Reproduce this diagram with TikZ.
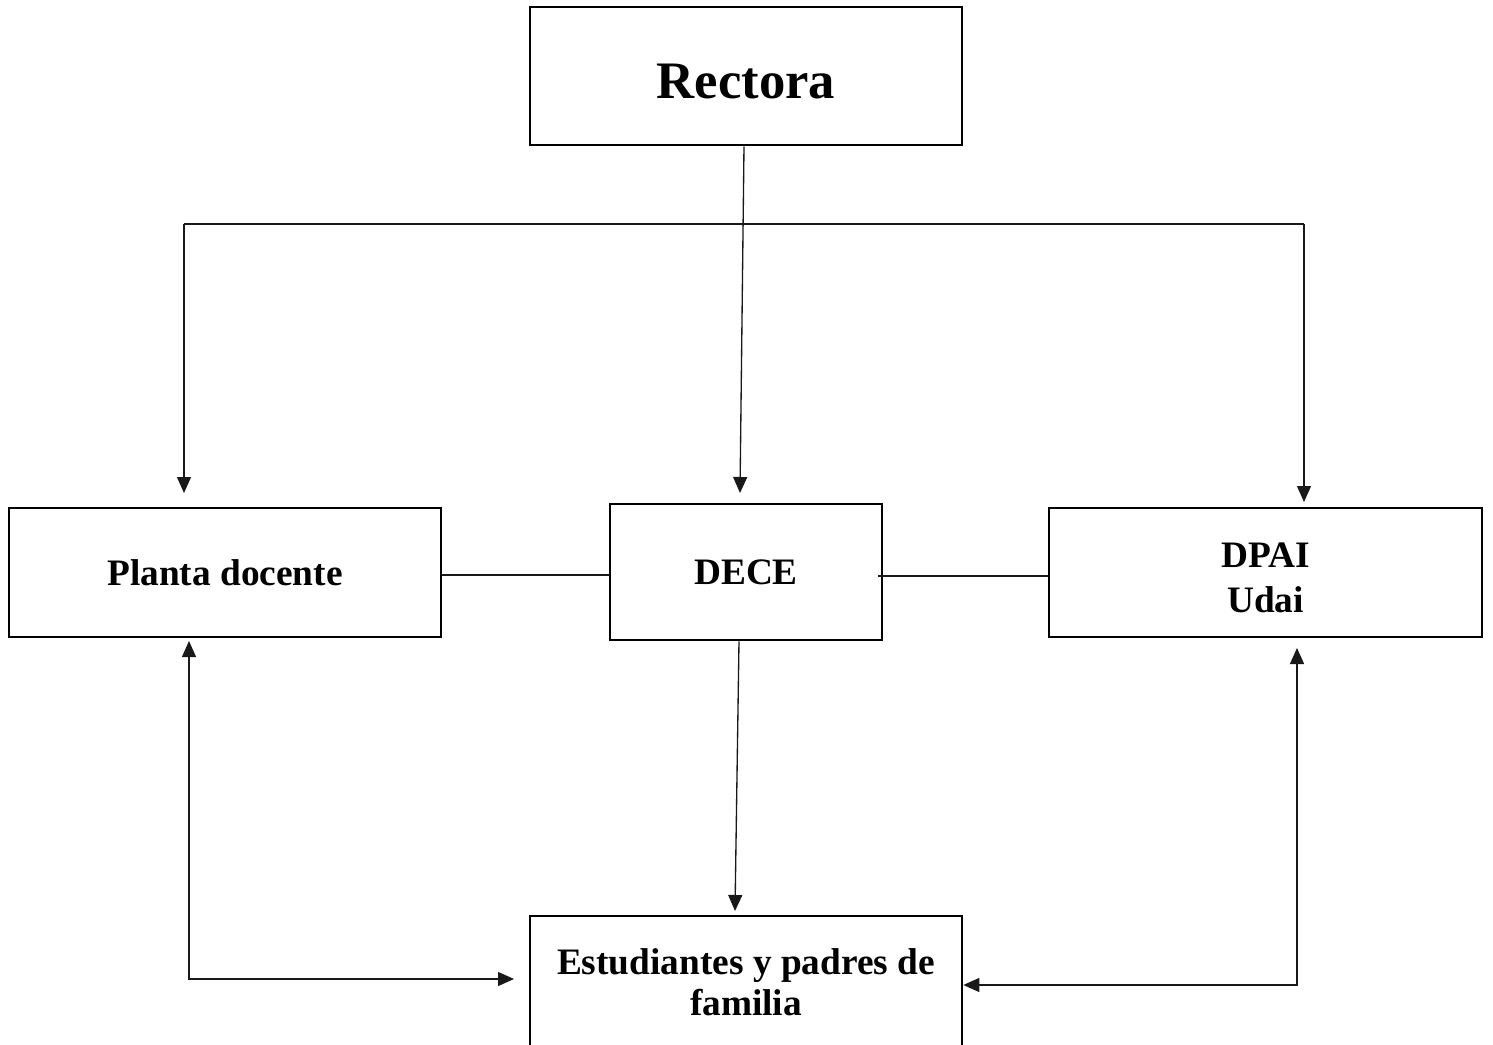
\documentclass[tikz,border=0pt]{standalone}
\usepackage{fontspec}
\setmainfont{Liberation Serif}
\usetikzlibrary{arrows.meta,calc}
\begin{document}
\begin{tikzpicture}[x=0.75pt,y=-0.75pt,
 box/.style={draw,line width=2pt,rectangle,inner sep=0pt,font=\fontsize{28}{33.75}\selectfont\bfseries,align=center},
 conn/.style={line width=1pt,draw=black!90},
 tip/.tip={Triangle[width=10.5pt,length=12pt]},
 arr/.style={conn,-tip},
 darr/.style={conn,tip-tip},
]
\path[use as bounding box] (0,0) rectangle (1493,1045);
\clip (0,0) rectangle (1493,1045);
\node[box,minimum width=324pt,minimum height=103.5pt,font=\fontsize{39.5}{44}\selectfont\bfseries,text height=34pt,text depth=0pt] (rect) at (746,76) {Rectora};
\node[box,minimum width=324pt,minimum height=96.75pt] (planta) at (225,572.5) {Planta docente};
\node[box,minimum width=204pt,minimum height=102pt] (dece) at (746,572) {DECE};
\node[box,minimum width=324.75pt,minimum height=96.75pt,text height=60pt,text depth=0pt] (dpai) at (1265.5,572.5) {DPAI\\Udai};
\node[box,minimum width=324pt,minimum height=99pt,font=\fontsize{28}{30.75}\selectfont\bfseries] (est) at (746,982) {Estudiantes y padres de\\familia};
\coordinate (busL) at (184,224);
\coordinate (busR) at (1304,224);
\coordinate (tPl) at (184,493);
\coordinate (tDp) at (1304,502);
\coordinate (tDe) at (740,493);
\coordinate (tEs) at (735,911);
\coordinate (pl1) at (189,641);
\coordinate (pl2) at (189,979);
\coordinate (tEsL) at (514,979);
\coordinate (dp1) at (1297,648);
\coordinate (dp2) at (1297,985);
\draw[conn] (busL) -- (busR);
\draw[arr] (busL) -- (tPl);
\draw[arr] (busR) -- (tDp);
\draw[arr] ($(rect.south)+(-2,0)$) -- (tDe);
\draw[conn] ($(planta.east)+(0,2.5)$) -- ($(dece.west)+(0,3)$);
\draw[conn] ($(dece.east)+(-5,4)$) -- ($(dpai.west)+(0,3.5)$);
\draw[arr] ($(dece.south)+(-7,0)$) -- (tEs);
\draw[darr] (pl1) -- (pl2) -- (tEsL);
\draw[darr] (est.east |- dp2) -- (dp2) -- (dp1);
\end{tikzpicture}
\end{document}
